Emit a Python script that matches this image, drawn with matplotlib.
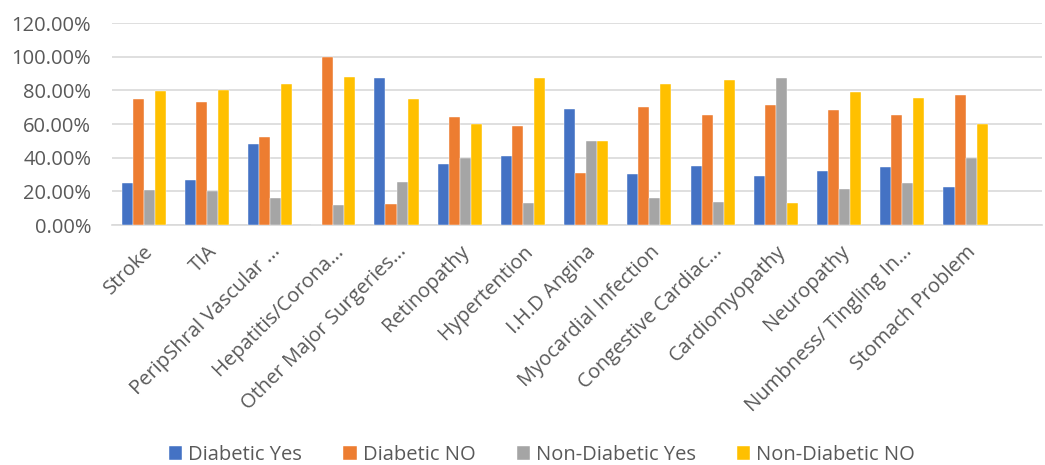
import matplotlib.pyplot as plt
import numpy as np
from matplotlib.ticker import FuncFormatter, MultipleLocator

conditions = [
    'Stroke', 'TIA', 'PeripShral Vascular ...', 'Hepatitis/Corona...',
    'Other Major Surgeries...', 'Retinopathy', 'Hypertention', 'I.H.D Angina',
    'Myocardial Infection', 'Congestive Cardiac...', 'Cardiomyopathy',
    'Neuropathy', 'Numbness/ Tingling In...', 'Stomach Problem',
]

# percentages per condition
diabetic_yes = [25, 26.7, 48, 0, 87.5, 36, 41.2, 69.1, 30.3, 35, 29.1, 32.1, 34.5, 22.8]
diabetic_no = [75, 73.3, 52, 100, 12.5, 64, 58.8, 30.9, 70.3, 65.2, 71.3, 68.1, 65.2, 77.1]
non_diabetic_yes = [20.6, 20, 16, 12, 25.5, 40, 13, 50, 16, 13.9, 87.3, 21.2, 25.1, 40]
non_diabetic_no = [79.4, 80, 84, 88, 74.7, 60, 87.3, 50, 84, 86.2, 13, 79.2, 75.5, 60]

series = [
    ('Diabetic Yes', diabetic_yes, '#4472C4'),
    ('Diabetic NO', diabetic_no, '#ED7D31'),
    ('Non-Diabetic Yes', non_diabetic_yes, '#A5A5A5'),
    ('Non-Diabetic NO', non_diabetic_no, '#FFC000'),
]

TEXT = '#595959'
plt.rcParams['font.family'] = ['Open Sans', 'DejaVu Sans']

fig = plt.figure(figsize=(10.45, 4.65), dpi=100)
ax = fig.add_axes([112 / 1045, 1 - 225 / 465, (1042 - 112) / 1045, (225 - 23) / 465])

x = np.arange(len(conditions))
width = 0.174
for i, (name, vals, color) in enumerate(series):
    ax.bar(x + (i - 1.5) * width, vals, width, color=color, label=name,
           edgecolor='white', linewidth=0.3, zorder=3)

ax.set_ylim(0, 120)
ax.set_xlim(-0.5, 14.21)
ax.yaxis.set_major_locator(MultipleLocator(20))
ax.yaxis.set_major_formatter(FuncFormatter(lambda v, _: f'{v:.2f}%'))
ax.grid(axis='y', color='#D9D9D9', linewidth=1.2, zorder=0)
ax.set_axisbelow(True)

for side in ['top', 'right', 'left']:
    ax.spines[side].set_visible(False)
ax.spines['bottom'].set_color('#D9D9D9')
ax.spines['bottom'].set_linewidth(1.2)

ax.set_xticks(x)
ax.set_xticklabels(conditions, rotation=45, ha='right', rotation_mode='anchor',
                   fontsize=14.5, color=TEXT)
ax.tick_params(axis='x', length=0, pad=12)
ax.tick_params(axis='y', length=0, labelsize=14.5, labelcolor=TEXT, pad=15)

fig.legend(loc='center', bbox_to_anchor=(542 / 1045, 1 - 455 / 465),
           ncol=4, frameon=False, fontsize=14.5, labelcolor=TEXT,
           handlelength=0.65, handleheight=0.65, handletextpad=0.3,
           columnspacing=2.05)

fig.savefig('out.png', dpi=100)
